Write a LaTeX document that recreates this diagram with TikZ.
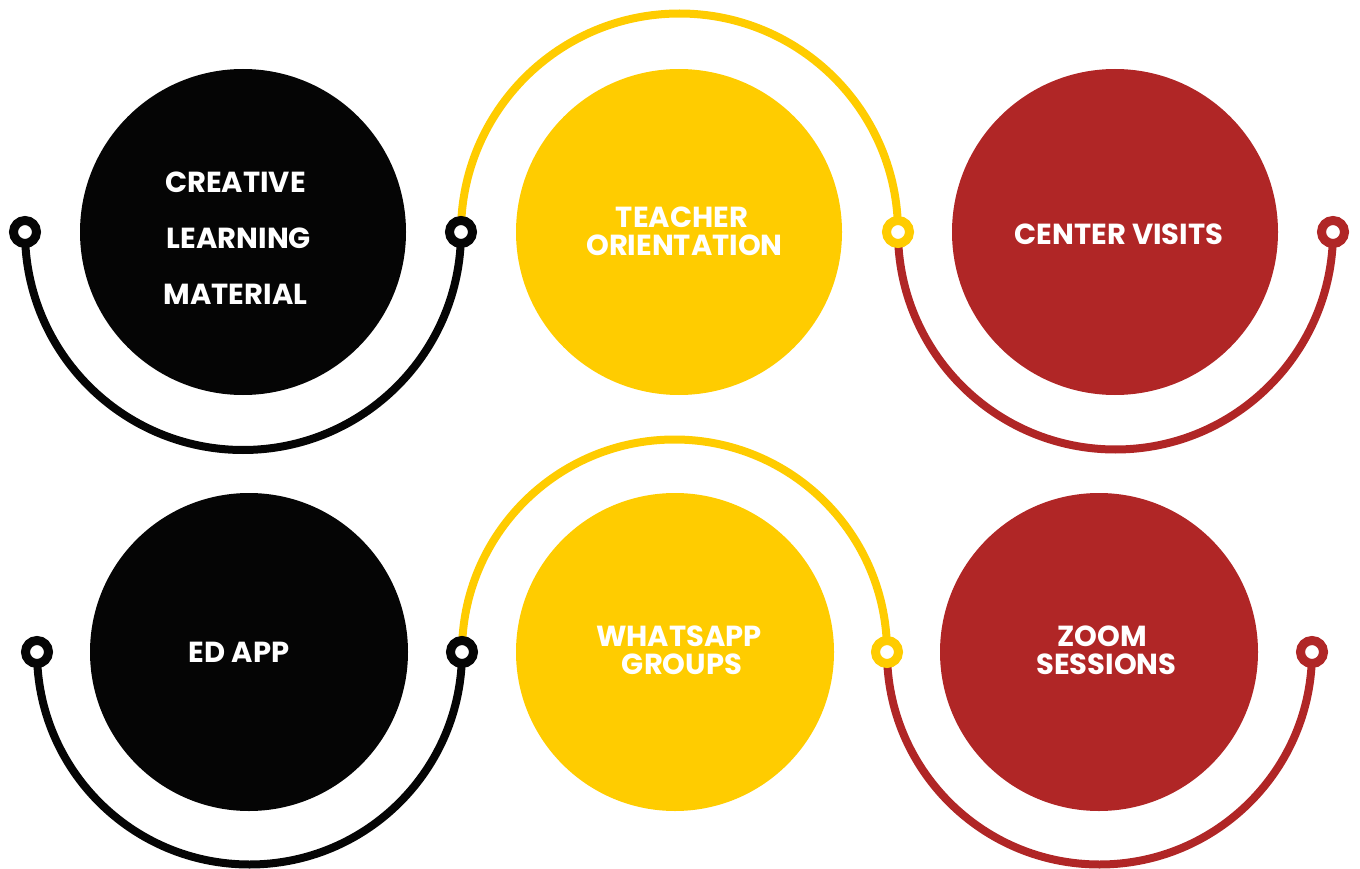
\documentclass[tikz,border=0pt]{standalone}
\usepackage{fontspec}
\newfontfamily\labfont{Poppins}
\definecolor{cblack}{HTML}{050505}
\definecolor{cyellow}{HTML}{FFCC00}
\definecolor{cred}{HTML}{B02626}
\tikzset{
  bigcirc/.style={circle, inner sep=0pt, minimum size=#1, draw=none},
  dotring/.style={circle, inner sep=0pt, minimum size=23pt, line width=9pt, draw=#1, fill=white},
  arcline/.style={line width=8pt, draw=#1},
  lab/.style={text=white, font=\labfont\bfseries\fontsize{29}{31}\selectfont, inner sep=0pt, anchor=center},
}
\begin{document}
\begin{tikzpicture}[x=1pt,y=-1pt]
\useasboundingbox (0,0) rectangle (1360,869);
% big circles
\node[bigcirc=326pt, fill=cblack]  (c1) at (243,232) {};
\node[bigcirc=326pt, fill=cyellow] (c2) at (679,232) {};
\node[bigcirc=326pt, fill=cred]    (c3) at (1115,232) {};
\node[bigcirc=318pt, fill=cblack]  (c4) at (249,652) {};
\node[bigcirc=318pt, fill=cyellow] (c5) at (675,652) {};
\node[bigcirc=318pt, fill=cred]    (c6) at (1099,652) {};
% connector coordinates
\coordinate (p1) at (25,232);
\coordinate (p2) at (461,232);
\coordinate (p3) at (898,232);
\coordinate (p4) at (1333,232);
\coordinate (q1) at (37,652);
\coordinate (q2) at (462,652);
\coordinate (q3) at (887,652);
\coordinate (q4) at (1312,652);
% arcs
\draw[arcline=cblack]  (p1) arc[start angle=180, end angle=360, radius=218pt];
\draw[arcline=cyellow] (p2) arc[start angle=180, end angle=0, radius=218.5pt];
\draw[arcline=cred]    (p3) arc[start angle=180, end angle=360, radius=217.5pt];
\draw[arcline=cblack]  (q1) arc[start angle=180, end angle=360, radius=212.5pt];
\draw[arcline=cyellow] (q2) arc[start angle=180, end angle=0, radius=212.5pt];
\draw[arcline=cred]    (q3) arc[start angle=180, end angle=360, radius=212.5pt];
% dots
\node[dotring=cblack]  (d1) at (p1) {};
\node[dotring=cblack]  (d2) at (p2) {};
\node[dotring=cyellow] (d3) at (p3) {};
\node[dotring=cred]    (d4) at (p4) {};
\node[dotring=cblack]  (e1) at (q1) {};
\node[dotring=cblack]  (e2) at (q2) {};
\node[dotring=cyellow] (e3) at (q3) {};
\node[dotring=cred]    (e4) at (q4) {};
% labels
\node[lab] (t1a) at (235.5,182) {CREATIVE};
\node[lab] (t1b) at (239,238) {LEARNING};
\node[lab] (t1c) at (235.5,294) {MATERIAL};
\node[lab] (t2a) at (682,217) {TEACHER};
\node[lab] (t2b) at (684.5,245) {ORIENTATION};
\node[lab] (t3)  at (1119,234) {CENTER VISITS};
\node[lab] (t4)  at (239,652) {ED APP};
\node[lab] (t5a) at (679,636) {WHATSAPP};
\node[lab] (t5b) at (682,664) {GROUPS};
\node[lab] (t6a) at (1102,636) {ZOOM};
\node[lab] (t6b) at (1106.5,664) {SESSIONS};
\end{tikzpicture}
\end{document}
